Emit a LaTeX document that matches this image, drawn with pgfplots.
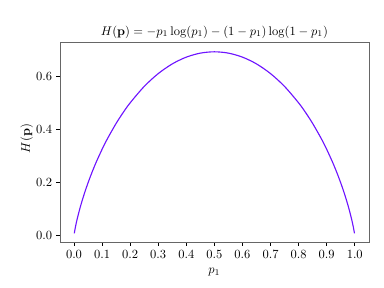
\documentclass[border=0pt]{standalone}
\usepackage{pgfplots}
\pgfplotsset{compat=1.18}
\definecolor{curve}{RGB}{110,20,255}
\begin{document}
\begin{tikzpicture}
\useasboundingbox (-48pt,-35.8pt) rectangle (259.2pt,193.9pt);
\begin{axis}[
  at={(0,0)}, anchor=south west,
  scale only axis, width=247pt, height=159.7pt,
  xmin=-0.0499, xmax=1.0499, ymin=-0.0263, ymax=0.7273,
  xtick={0,0.1,...,1.0}, ytick={0,0.2,0.4,0.6},
  xticklabel style={/pgf/number format/.cd,fixed,fixed zerofill,precision=1},
  yticklabel style={/pgf/number format/.cd,fixed,fixed zerofill,precision=1},
  tick pos=left, tick align=outside, major tick length=2.8pt,
  axis line style={gray!80!black}, tick style={black, line width=0.5pt},
  every axis title shift=0pt,
  title={$H(\mathbf{p}) = -p_1\log(p_1) - (1-p_1)\log(1-p_1)$},
  title style={at={(axis description cs:0.5,1.054)}, anchor=center, yshift=0pt},
  xlabel={$p_1$},
  xlabel style={at={(axis description cs:0.5,-0.15)}, anchor=center, yshift=0pt},
  ylabel={$H(\mathbf{p})$},
  ylabel style={at={(axis description cs:-0.108,0.52)}, anchor=center, xshift=0pt, yshift=0pt},
]
\addplot[curve, line width=0.9pt, smooth] coordinates {
(0.001,0.007907)(0.005,0.03148)(0.01,0.05600)(0.02,0.09804)(0.03,0.13474)
(0.04,0.16794)(0.05,0.19852)(0.06,0.22697)(0.07,0.25364)(0.08,0.27877)
(0.10,0.32508)(0.12,0.36692)(0.15,0.42271)(0.175,0.46373)(0.20,0.50040)
(0.25,0.56234)(0.30,0.61086)(0.35,0.64745)(0.40,0.67301)(0.45,0.68814)
(0.50,0.69315)
(0.55,0.68814)(0.60,0.67301)(0.65,0.64745)(0.70,0.61086)(0.75,0.56234)
(0.80,0.50040)(0.825,0.46373)(0.85,0.42271)(0.88,0.36692)(0.90,0.32508)
(0.92,0.27877)(0.93,0.25364)(0.94,0.22697)(0.95,0.19852)(0.96,0.16794)
(0.97,0.13474)(0.98,0.09804)(0.99,0.05600)(0.995,0.03148)(0.999,0.007907)
};
\end{axis}
\end{tikzpicture}
\end{document}
